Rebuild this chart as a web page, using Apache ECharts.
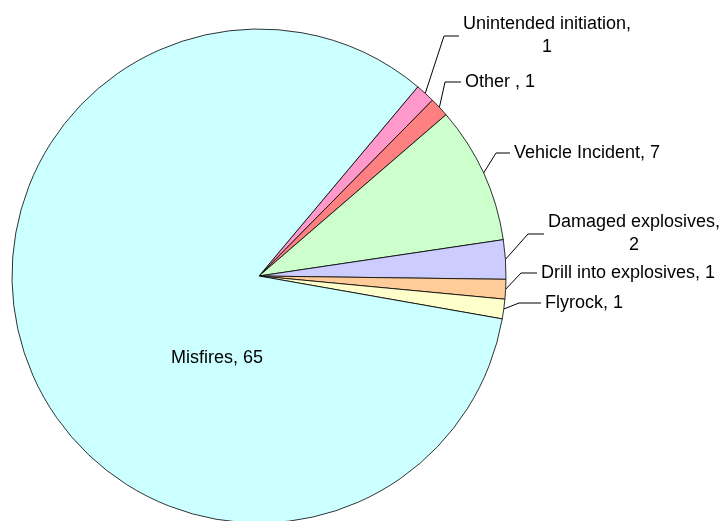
<!DOCTYPE html>
<html>
<head>
<meta charset="utf-8">
<script src="https://cdn.jsdelivr.net/npm/echarts@6/dist/echarts.min.js"></script>
<style>
  html, body { margin: 0; padding: 0; background: #fff; }
  #chart { width: 728px; height: 521px; }
</style>
</head>
<body>
<div id="chart"></div>
<script>
// 数据
const categories = ['Unintended initiation', 'Other ', 'Vehicle Incident', 'Damaged explosives', 'Drill into explosives', 'Flyrock', 'Misfires'];
const values = [1, 1, 7, 2, 1, 1, 65];
const colors = ['#FF99CC', '#FF8080', '#CCFFCC', '#CCCCFF', '#FFCC99', '#FFFFCC', '#CCFFFF'];

// 标签位置（布局用）[x, y, align]
const labelPos = [[459, 36, 'left'], [461, 82, 'left'], [510, 153, 'left'], [544, 234, 'left'], [537, 273, 'left'], [541, 303, 'left'], [217, 358, 'center']];
// 引导线水平段长度
const line2 = [15, 16, 14, 16, 16, 22, 0];

const FONT = 'Liberation Sans, Arial, sans-serif';
const chartInstance = echarts.init(document.getElementById('chart'));

const option = {
  animation: false,
  series: [{
    type: 'pie',
    center: [259, 276],
    radius: 247,
    startAngle: 50,
    clockwise: true,
    avoidLabelOverlap: false,
    emphasis: { disabled: true },
    itemStyle: {
      borderColor: '#000',
      borderWidth: 0.8
    },
    label: {
      show: true,
      color: '#000',
      fontFamily: FONT,
      fontSize: 18,
      lineHeight: 23,
      padding: [0, 0, 0, 4]
    },
    labelLine: {
      show: true,
      length: 10,
      lineStyle: { color: '#000', width: 1 }
    },
    labelLayout: function (params) {
      const p = labelPos[params.dataIndex];
      return { x: p[0], y: p[1], align: p[2], verticalAlign: 'middle', hideOverlap: false, moveOverlap: null };
    },
    data: categories.map((name, i) => {
      const item = {
        name: name,
        value: values[i],
        itemStyle: { color: colors[i] },
        labelLine: { length2: line2[i] }
      };
      if (name === 'Misfires') {
        // 内部标签
        item.label = { position: 'inner', formatter: '{b}, {c}', padding: 0 };
        item.labelLine = { show: false };
      } else if (name === 'Unintended initiation' || name === 'Damaged explosives') {
        // 两行文字，第二行居中
        item.label = {
          formatter: '{a|{b},}\n{n|{c}}',
          rich: {
            a: { fontSize: 18, lineHeight: 23, fontFamily: FONT, color: '#000' },
            n: { fontSize: 18, lineHeight: 23, align: 'center', fontFamily: FONT, color: '#000' }
          }
        };
      } else {
        item.label = { formatter: '{b}, {c}' };
      }
      return item;
    })
  }]
};

chartInstance.setOption(option);

window.addEventListener('resize', () => {
  chartInstance.resize();
});
</script>
</body>
</html>
